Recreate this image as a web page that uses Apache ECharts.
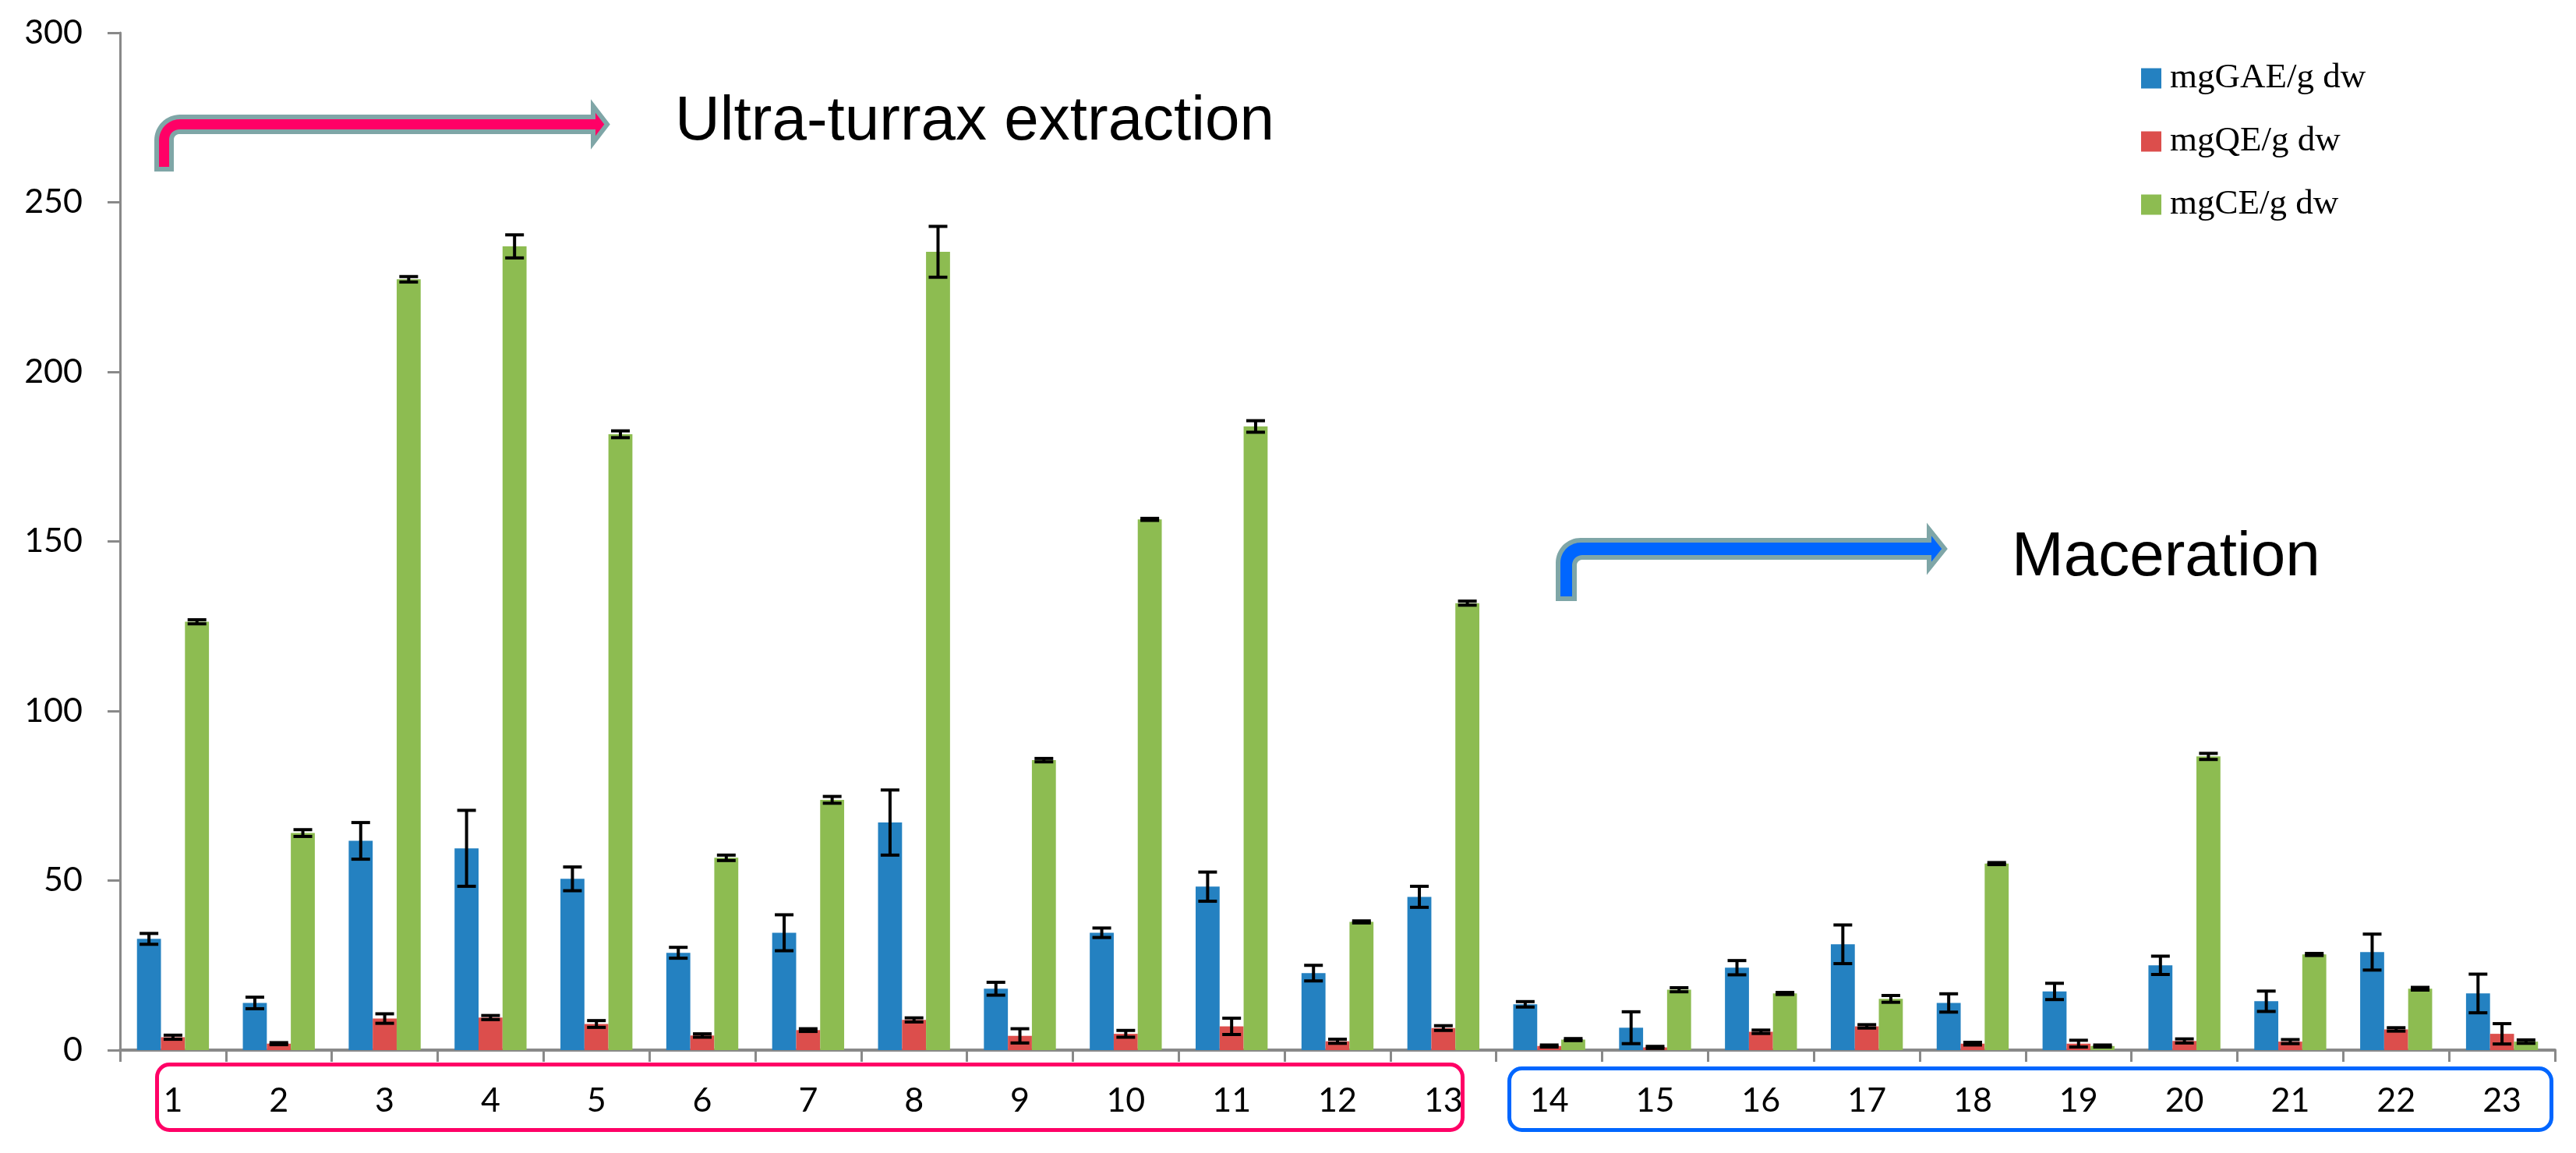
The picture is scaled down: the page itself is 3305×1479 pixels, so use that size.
<!DOCTYPE html>
<html>
<head>
<meta charset="utf-8">
<script src="https://cdn.jsdelivr.net/npm/echarts@6/dist/echarts.min.js"></script>
<style>html,body{margin:0;padding:0;background:#fff}#c{width:3305px;height:1479px}</style>
</head>
<body>
<div id="c"></div>
<script>
// ---- data ----
var categories = ['1','2','3','4','5','6','7','8','9','10','11','12','13','14','15','16','17','18','19','20','21','22','23'];
var seriesNames = ['mgGAE/g dw','mgQE/g dw','mgCE/g dw'];
var gae    = [32.8, 13.9, 61.7, 59.5, 50.5, 28.7, 34.6, 67.1, 18.1, 34.6, 48.2, 22.7, 45.2, 13.5, 6.6, 24.3, 31.2, 13.9, 17.3, 25.0, 14.4, 28.9, 16.7];
var gaeErr = [1.6, 1.7, 5.4, 11.2, 3.5, 1.6, 5.3, 9.6, 1.9, 1.4, 4.3, 2.3, 3.1, 0.8, 4.7, 2.1, 5.7, 2.7, 2.4, 2.7, 3.0, 5.3, 5.7];
var qe     = [3.8, 1.9, 9.3, 9.6, 7.7, 4.3, 5.9, 8.9, 4.2, 4.8, 7.0, 2.6, 6.5, 1.2, 0.8, 5.4, 7.0, 1.9, 1.9, 2.7, 2.5, 6.1, 4.8];
var qeErr  = [0.6, 0.3, 1.4, 0.6, 1.0, 0.5, 0.4, 0.6, 2.1, 1.0, 2.4, 0.6, 0.7, 0.3, 0.3, 0.5, 0.5, 0.4, 1.0, 0.6, 0.6, 0.5, 3.0];
var ce     = [126.3, 64.0, 227.3, 237.0, 181.6, 56.7, 73.8, 235.4, 85.5, 156.5, 183.9, 37.8, 131.8, 3.1, 17.8, 16.7, 15.1, 55.0, 1.2, 86.6, 28.2, 18.1, 2.5];
var ceErr  = [0.6, 1.0, 0.8, 3.4, 1.0, 0.8, 1.0, 7.5, 0.5, 0.3, 1.7, 0.3, 0.6, 0.3, 0.6, 0.3, 1.0, 0.3, 0.3, 0.9, 0.3, 0.4, 0.5];
var yTicks = [0, 50, 100, 150, 200, 250, 300];
var colors = ['#2481C1', '#DC4E4C', '#8DBC51'];
var annot1 = 'Ultra-turrax extraction';
var annot2 = 'Maceration';

var CAT_GAP = 0.32;

function errSeries(idx, vals, errs) {
  var data = vals.map(function (v, i) { return [i, v, errs[i]]; });
  return {
    type: 'custom',
    z: 10,
    silent: true,
    encode: { x: 0, y: 1 },
    data: data,
    renderItem: function (params, api) {
      var ci = api.value(0), v = api.value(1), e = api.value(2);
      var band = api.size([1, 0])[0];
      var bw = band * (1 - CAT_GAP) / 3;
      var c = api.coord([ci, v]);
      var x = c[0] + (idx - 1) * bw;
      var hi = api.coord([ci, v + e])[1];
      var lo = api.coord([ci, Math.max(0, v - e)])[1];
      var cap = 12;
      var st = { stroke: '#000', lineWidth: 4 };
      return {
        type: 'group',
        children: [
          { type: 'line', shape: { x1: x, y1: hi, x2: x, y2: lo }, style: st },
          { type: 'line', shape: { x1: x - cap, y1: hi, x2: x + cap, y2: hi }, style: st },
          { type: 'line', shape: { x1: x - cap, y1: lo, x2: x + cap, y2: lo }, style: st }
        ]
      };
    }
  };
}

// bent arrow outline (decorative annotation)
function arc(cx, cy, r, a0, a1, n) {
  var pts = [];
  for (var k = 0; k <= n; k++) {
    var a = (a0 + (a1 - a0) * k / n) * Math.PI / 180;
    pts.push([cx + r * Math.cos(a), cy + r * Math.sin(a)]);
  }
  return pts;
}
function bentArrow(xl, xr, yt, yb, yBottom, headX, headHalf, tipX, rOut, rIn) {
  var ym = (yt + yb) / 2;
  var pts = [[xl, yBottom]];
  pts = pts.concat(arc(xl + rOut, yt + rOut, rOut, 180, 270, 16));
  pts.push([headX, yt], [headX, ym - headHalf], [tipX, ym], [headX, ym + headHalf], [headX, yb]);
  pts = pts.concat(arc(xr + rIn, yb + rIn, rIn, 270, 180, 10));
  pts.push([xr, yBottom]);
  return pts;
}

var chart = echarts.init(document.getElementById('c'), null, { renderer: 'canvas' });
var axisGray = '#898989';
var option = {
  backgroundColor: '#ffffff',
  animation: false,
  grid: { left: 154, right: 27, top: 42, bottom: 132, containLabel: false },
  legend: {
    data: seriesNames,
    orient: 'vertical',
    left: 2747,
    top: 78,
    itemWidth: 26,
    itemHeight: 26,
    itemGap: 36,
    padding: 0,
    icon: 'rect',
    textStyle: { fontFamily: 'Liberation Serif', fontSize: 45, color: '#000', padding: [0, 0, 0, 6] }
  },
  xAxis: {
    type: 'category',
    data: categories,
    boundaryGap: true,
    axisLine: { show: true, lineStyle: { color: axisGray, width: 4 } },
    axisTick: { show: true, length: 15, lineStyle: { color: axisGray, width: 3 } },
    axisLabel: { fontFamily: 'Lato', fontSize: 43, color: '#000', margin: 44 },
    splitLine: { show: false }
  },
  yAxis: {
    type: 'value',
    min: 0, max: 300, interval: 50,
    axisLine: { show: true, lineStyle: { color: axisGray, width: 3 } },
    axisTick: { show: true, length: 16, lineStyle: { color: axisGray, width: 3 } },
    axisLabel: {
      fontFamily: 'Lato', fontSize: 43, color: '#000', margin: 48,
      formatter: function (v) { return yTicks.indexOf(v) >= 0 ? String(v) : ''; }
    },
    splitLine: { show: false }
  },
  series: [
    { name: seriesNames[0], type: 'bar', data: gae, barGap: '0%', barCategoryGap: (CAT_GAP * 100) + '%', itemStyle: { color: colors[0] } },
    { name: seriesNames[1], type: 'bar', data: qe, barGap: '0%', barCategoryGap: (CAT_GAP * 100) + '%', itemStyle: { color: colors[1] } },
    { name: seriesNames[2], type: 'bar', data: ce, barGap: '0%', barCategoryGap: (CAT_GAP * 100) + '%', itemStyle: { color: colors[2] } },
    errSeries(0, gae, gaeErr),
    errSeries(1, qe, qeErr),
    errSeries(2, ce, ceErr)
  ],
  graphic: [
    { type: 'polygon', z: 20,
      shape: { points: bentArrow(201, 220, 150, 169, 217, 761, 23.5, 779, 30, 10) },
      style: { fill: '#FF0066', stroke: '#7FA6A7', lineWidth: 6, lineJoin: 'miter' } },
    { type: 'text', z: 20, x: 866, y: 157,
      style: { text: annot1, fontFamily: 'Liberation Sans', fontSize: 80, fill: '#000', align: 'left', verticalAlign: 'middle' } },
    { type: 'polygon', z: 20,
      shape: { points: bentArrow(1999, 2020, 693, 715, 768, 2475, 25, 2495, 29, 10) },
      style: { fill: '#0066FF', stroke: '#7FA6A7', lineWidth: 6, lineJoin: 'miter' } },
    { type: 'text', z: 20, x: 2581, y: 716,
      style: { text: annot2, fontFamily: 'Liberation Sans', fontSize: 80, fill: '#000', align: 'left', verticalAlign: 'middle' } },
    { type: 'rect', z: 20,
      shape: { x: 201.5, y: 1365.5, width: 1675, height: 84, r: 16 },
      style: { fill: 'none', stroke: '#FF0066', lineWidth: 5 } },
    { type: 'rect', z: 20,
      shape: { x: 1936.5, y: 1370.5, width: 1337, height: 79, r: 16 },
      style: { fill: 'none', stroke: '#0066FF', lineWidth: 5 } }
  ]
};
chart.setOption(option);
</script>
</body>
</html>
